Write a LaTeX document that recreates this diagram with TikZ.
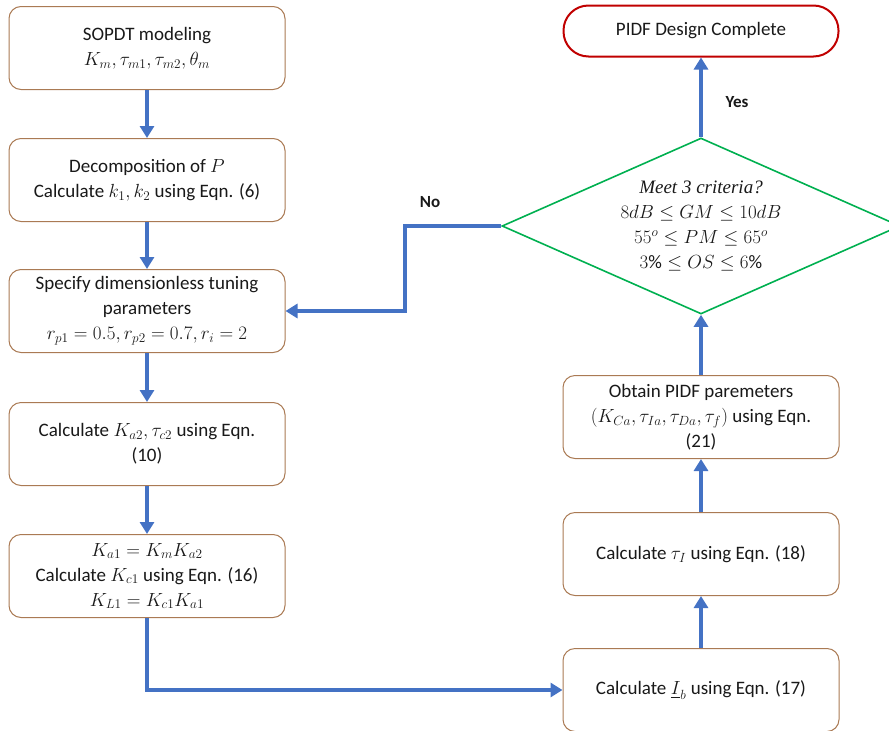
\RequirePackage{fix-cm}
\documentclass[tikz,border=0pt]{standalone}
\usepackage{amsmath, amssymb}
\usepackage{fontspec}
\setmainfont{Carlito}
\newfontfamily\critfont{Liberation Serif}
\usepackage{tikz}
\usetikzlibrary{arrows.meta, shapes.geometric}

\definecolor{flowblue}{RGB}{68,114,196}
\definecolor{boxbrown}{RGB}{170,122,84}
\definecolor{critgreen}{RGB}{0,176,80}
\definecolor{donered}{RGB}{192,0,0}

\begin{document}
\begin{tikzpicture}[x=1pt, y=-1pt,
    every node/.style={font=\fontsize{19}{25}\selectfont, text=black!90},
    stepbox/.style={draw=boxbrown, line width=1, rounded corners=12,
        minimum width=276, minimum height=83, align=center, fill=white},
    critbox/.style={draw=critgreen, line width=1.6, shape=diamond, aspect=2.26,
        inner sep=0, minimum width=398, minimum height=176, align=center},
    donebox/.style={draw=donered, line width=2, rounded corners=25,
        minimum width=275, minimum height=51},
    flow/.style={draw=flowblue, line width=4,
        -{Triangle[length=12, width=14]}},
    answer/.style={font=\fontsize{17}{20}\selectfont\bfseries}]

    % --- 1. canvas ---
    \useasboundingbox (0,0) rectangle (889,731);

    % --- 2. left column: modelling and tuning steps ---
    \node[stepbox] (sopdt) at (147,48)
        {SOPDT modeling\\$K_m, \tau_{m1}, \tau_{m2}, \theta_m$};
    \node[stepbox] (decomp) at (147,180)
        {Decomposition of $P$\\Calculate $k_1, k_2$ using Eqn. (6)};
    \node[stepbox] (tuning) at (147,311)
        {Specify dimensionless tuning\\parameters\\$r_{p1} = 0.5, r_{p2} = 0.7, r_i = 2$};
    \node[stepbox] (kalpha) at (147,444)
        {Calculate $K_{a2}, \tau_{c2}$ using Eqn.\\(10)};
    \node[stepbox] (kcone) at (147,576)
        {$K_{a1} = K_m K_{a2}$\\Calculate $K_{c1}$ using Eqn. (16)\\$K_{L1} = K_{c1} K_{a1}$};

    % --- 3. right column: PIDF parameters ---
    \node[stepbox] (ib) at (701,690)
        {Calculate $\underline{I}_b$ using Eqn. (17)};
    \node[stepbox] (taui) at (701,554)
        {Calculate $\tau_I$ using Eqn. (18)};
    \node[stepbox] (pidf) at (701,417)
        {Obtain PIDF paremeters\\$(K_{Ca}, \tau_{Ia}, \tau_{Da}, \tau_f)$ using Eqn.\\(21)};

    % --- 4. decision and end ---
    \node[critbox] (crit) at (701,226)
        {{\critfont\itshape Meet 3 criteria?}\\$8dB \leq GM \leq 10dB$\\
         $55^o \leq PM \leq 65^o$\\$3\% \leq OS \leq 6\%$};
    \node[donebox] (done) at (701,31) {PIDF Design Complete};

    % --- 5. connectors ---
    \draw[flow] (sopdt) -- (decomp);
    \draw[flow] (decomp) -- (tuning);
    \draw[flow] (tuning) -- (kalpha);
    \draw[flow] (kalpha) -- (kcone);
    \draw[flow] (kcone.south) |- (ib.west);
    \draw[flow] (ib) -- (taui);
    \draw[flow] (taui) -- (pidf);
    \draw[flow] (pidf) -- (crit.south);
    \draw[flow] (crit.north) -- (done);

    \coordinate (nobend) at (405,226);
    \draw[flow] (crit.west) -- (nobend) |- (tuning.east);

    \node[answer] (no) at (430,202) {No};
    \node[answer] (yes) at (737,102) {Yes};

\end{tikzpicture}
\end{document}
